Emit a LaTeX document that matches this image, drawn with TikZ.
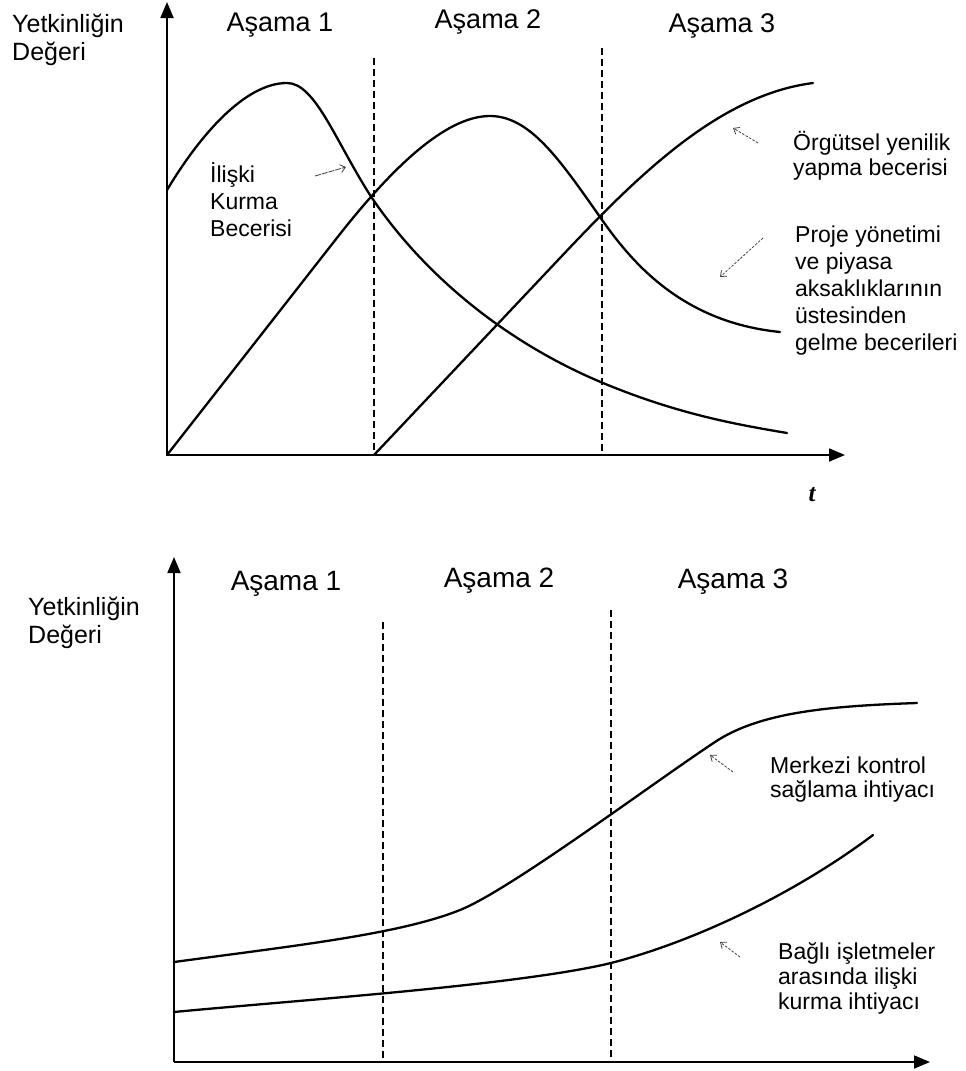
\documentclass[tikz,border=0pt]{standalone}
\usepackage{fontspec}
\setmainfont{Liberation Sans}
\newfontfamily\serifT{Liberation Serif}
\usetikzlibrary{arrows.meta}
\begin{document}
\begin{tikzpicture}[x=1pt,y=-1pt,
  axis/.style={line width=1.8pt, -{Triangle[length=16pt,width=13pt]}},
  divider/.style={line width=1.4pt, dash pattern=on 7pt off 4pt},
  curve/.style={line width=2.3pt, line join=round, line cap=round},
  stage/.style={anchor=base, inner sep=0pt, font=\fontsize{27}{30}\selectfont},
  ylab/.style={anchor=north west, inner sep=0pt, align=left, font=\fontsize{25}{28}\selectfont},
  lbl/.style={anchor=north west, inner sep=0pt, align=left, font=\fontsize{23}{26}\selectfont},
  note/.style={draw=black!75, line width=0.8pt, dash pattern=on 2.5pt off 1.5pt, -{Straight Barb[length=5pt,width=8pt]}}]
\useasboundingbox (0,0) rectangle (966,1071);

% ===================== TOP CHART =====================
\coordinate (o1) at (167,455);
\coordinate (y1) at (167,2);
\coordinate (x1) at (845,455);
\draw[axis] (o1) -- (y1);
\draw[axis] (o1) -- (x1);
\coordinate (d1t) at (374,58);  \coordinate (d1b) at (374,455);
\coordinate (d2t) at (602,48);  \coordinate (d2b) at (602,455);
\draw[divider] (d1t) -- (d1b);
\draw[divider] (d2t) -- (d2b);

\node[ylab] (yl1) at (12,14) {Yetkinliğin\\Değeri};
\node[stage] (s11) at (280,31) {Aşama 1};
\node[stage] (s12) at (488,28) {Aşama 2};
\node[stage] (s13) at (722,32) {Aşama 3};
\node[anchor=base, inner sep=0pt, font=\serifT\fontsize{25}{28}\selectfont\bfseries\itshape] (tl) at (812,501) {t};

% curves
\draw[curve] (167,190) .. controls (200,135) and (245,83) .. (287,83)
  .. controls (315,83) and (335,140) .. (370,195)
  .. controls (420,270) and (500,340) .. (603,383)
  .. controls (680,415) and (740,425) .. (787,433);
\draw[curve] (167,455) -- (340,234)
  .. controls (400,158) and (450,116) .. (490,116)
  .. controls (530,116) and (560,160) .. (600,217)
  .. controls (630,260) and (680,322) .. (780,332);
\draw[curve] (374,455) -- (560,258)
  .. controls (640,173) and (720,95) .. (813,83);

% labels
\node[lbl, font=\fontsize{23}{27}\selectfont] (l1) at (210,162) {İlişki\\Kurma\\Becerisi};
\coordinate (a1s) at (315,176); \coordinate (a1e) at (346,167);
\draw[note, dash pattern=on 6pt off 1pt] (a1s) -- (a1e);

\node[lbl, font=\fontsize{23}{25}\selectfont] (l2) at (793,131) {Örgütsel yenilik\\yapma becerisi};
\coordinate (a2s) at (758,143); \coordinate (a2e) at (733,128);
\draw[note] (a2s) -- (a2e);

\node[lbl, font=\fontsize{23}{27}\selectfont] (l3) at (795,226) {Proje yönetimi\\ve piyasa\\aksaklıklarının\\üstesinden\\gelme becerileri};
\coordinate (a3s) at (763,238); \coordinate (a3e) at (720,277);
\draw[note] (a3s) -- (a3e);

% ===================== BOTTOM CHART =====================
\coordinate (o2) at (174,1062);
\coordinate (y2) at (174,557);
\coordinate (x2) at (930,1062);
\draw[axis] (o2) -- (y2);
\draw[axis] (o2) -- (x2);
\coordinate (d3t) at (383,622);  \coordinate (d3b) at (383,1062);
\coordinate (d4t) at (611,610);  \coordinate (d4b) at (611,1062);
\draw[divider] (d3t) -- (d3b);
\draw[divider] (d4t) -- (d4b);

\node[ylab] (yl2) at (28,597) {Yetkinliğin\\Değeri};
\node[stage, font=\fontsize{28}{30}\selectfont] (s21) at (286,590) {Aşama 1};
\node[stage, font=\fontsize{28}{30}\selectfont] (s22) at (499,587) {Aşama 2};
\node[stage, font=\fontsize{28}{30}\selectfont] (s23) at (733,588) {Aşama 3};

\draw[curve] (174,962) .. controls (300,945) and (400,934) .. (460,910)
  .. controls (510,890) and (650,785) .. (715,742)
  .. controls (760,712) and (830,706) .. (917,703);
\draw[curve] (174,1012) .. controls (300,1000) and (520,985) .. (611,963)
  .. controls (700,940) and (800,890) .. (873,835);

\node[lbl, font=\fontsize{23}{24}\selectfont] (l4) at (770,757) {Merkezi kontrol\\sağlama ihtiyacı};
\coordinate (a4s) at (733,772); \coordinate (a4e) at (710,755);
\draw[note] (a4s) -- (a4e);

\node[lbl, font=\fontsize{23}{25}\selectfont] (l5) at (778,942) {Bağlı işletmeler\\arasında ilişki\\kurma ihtiyacı};
\coordinate (a5s) at (740,957); \coordinate (a5e) at (720,942);
\draw[note] (a5s) -- (a5e);
\end{tikzpicture}
\end{document}
